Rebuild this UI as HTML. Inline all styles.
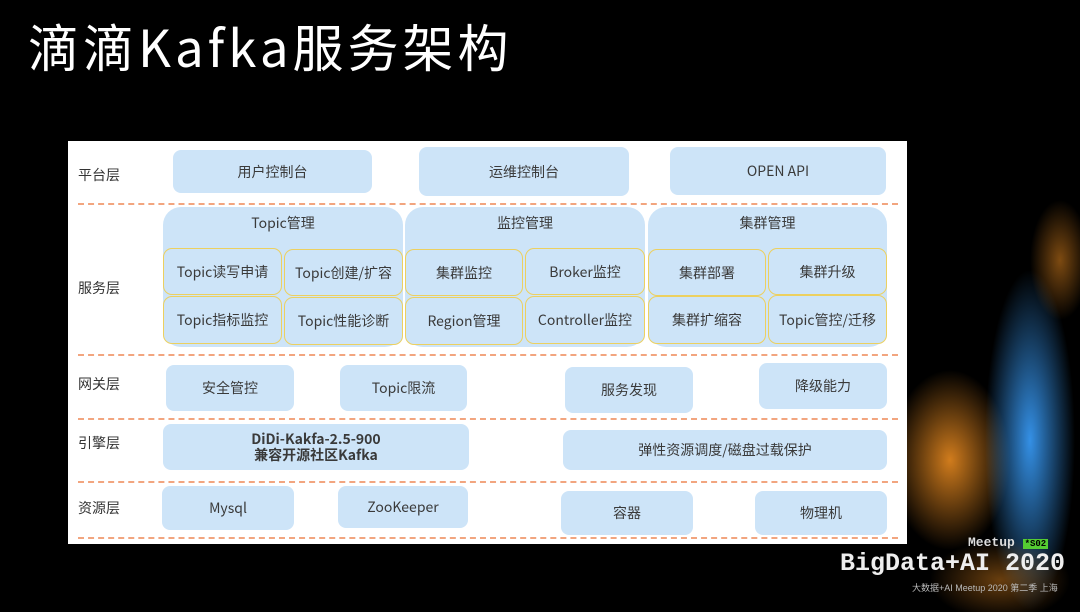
<!DOCTYPE html>
<html><head><meta charset="utf-8"><style>
*{margin:0;padding:0;box-sizing:border-box}
body{width:1080px;height:612px;background:#000;position:relative;overflow:hidden;font-family:"Liberation Sans","Noto Sans CJK SC",sans-serif}
.t{position:absolute;left:28px;top:8px;color:#fff;font-size:51px;font-family:"Noto Sans CJK SC",sans-serif;white-space:nowrap;letter-spacing:4px}
.panel{position:absolute;left:68px;top:141px;width:839px;height:403px;background:#fff}
.b{position:absolute;background:#cde4f8;border-radius:8px;color:#3a3a3a;font-size:14px;display:flex;align-items:center;justify-content:center;text-align:center;line-height:16px;font-family:"Noto Sans CJK SC",sans-serif}
.g{position:absolute;background:#cde4f8;border-radius:18px;color:#3a3a3a;font-size:14px;text-align:center;padding-top:6px;font-family:"Noto Sans CJK SC",sans-serif}
.y{border:1.5px solid #ecd060;border-radius:9px;background:#cde4f8}
.d{position:absolute;left:78px;width:820px;height:0;border-top:2px dashed #f2a57f}
.l{position:absolute;left:78px;color:#333;font-size:14px;font-family:"Noto Sans CJK SC",sans-serif}
</style></head><body>
<div class="t">滴滴Kafka服务架构</div>
<svg style="position:absolute;left:880px;top:140px" width="200" height="472">
<defs><radialGradient id="o"><stop offset="0" stop-color="#e88a20" stop-opacity=".9"/><stop offset="1" stop-color="#e88a20" stop-opacity="0"/></radialGradient>
<radialGradient id="bl"><stop offset="0" stop-color="#3aa0ff" stop-opacity=".9"/><stop offset="1" stop-color="#3aa0ff" stop-opacity="0"/></radialGradient></defs>
<ellipse cx="70" cy="320" rx="60" ry="90" fill="url(#o)"/>
<ellipse cx="150" cy="300" rx="45" ry="170" fill="url(#bl)"/>
<ellipse cx="180" cy="120" rx="30" ry="60" fill="url(#o)" opacity=".6"/>
<ellipse cx="120" cy="440" rx="70" ry="40" fill="url(#o)" opacity=".5"/>
</svg>
<div class="panel"></div>
<div class="d" style="top:203px"></div>
<div class="d" style="top:354px"></div>
<div class="d" style="top:418px"></div>
<div class="d" style="top:481px"></div>
<div class="d" style="top:537px"></div>
<div class="l" style="top:165px">平台层</div>
<div class="l" style="top:278px">服务层</div>
<div class="l" style="top:374px">网关层</div>
<div class="l" style="top:433px">引擎层</div>
<div class="l" style="top:498px">资源层</div>
<div class="b" style="left:173px;top:150px;width:199px;height:43px">用户控制台</div>
<div class="b" style="left:419px;top:147px;width:210px;height:49px">运维控制台</div>
<div class="b" style="left:670px;top:147px;width:216px;height:48px">OPEN API</div>
<div class="g" style="left:163px;top:207px;width:240px;height:140px">Topic管理</div>
<div class="g" style="left:405px;top:207px;width:240px;height:140px">监控管理</div>
<div class="g" style="left:648px;top:207px;width:239px;height:140px">集群管理</div>
<div class="b y" style="left:163px;top:248px;width:119px;height:47px">Topic读写申请</div>
<div class="b y" style="left:284px;top:249px;width:119px;height:47px">Topic创建/扩容</div>
<div class="b y" style="left:163px;top:296px;width:119px;height:48px">Topic指标监控</div>
<div class="b y" style="left:284px;top:297px;width:119px;height:48px">Topic性能诊断</div>
<div class="b y" style="left:405px;top:249px;width:118px;height:47px">集群监控</div>
<div class="b y" style="left:525px;top:248px;width:120px;height:47px">Broker监控</div>
<div class="b y" style="left:405px;top:297px;width:118px;height:48px">Region管理</div>
<div class="b y" style="left:525px;top:296px;width:120px;height:48px">Controller监控</div>
<div class="b y" style="left:648px;top:249px;width:118px;height:47px">集群部署</div>
<div class="b y" style="left:768px;top:248px;width:119px;height:47px">集群升级</div>
<div class="b y" style="left:648px;top:296px;width:118px;height:48px">集群扩缩容</div>
<div class="b y" style="left:768px;top:295px;width:119px;height:49px">Topic管控/迁移</div>
<div class="b" style="left:166px;top:365px;width:128px;height:46px">安全管控</div>
<div class="b" style="left:340px;top:365px;width:127px;height:46px">Topic限流</div>
<div class="b" style="left:565px;top:367px;width:128px;height:46px">服务发现</div>
<div class="b" style="left:759px;top:363px;width:128px;height:46px">降级能力</div>
<div class="b" style="left:163px;top:424px;width:306px;height:46px;font-weight:bold;flex-direction:column">DiDi-Kakfa-2.5-900<br>兼容开源社区Kafka</div>
<div class="b" style="left:563px;top:430px;width:324px;height:40px">弹性资源调度/磁盘过载保护</div>
<div class="b" style="left:162px;top:486px;width:132px;height:44px">Mysql</div>
<div class="b" style="left:338px;top:486px;width:130px;height:42px">ZooKeeper</div>
<div class="b" style="left:561px;top:491px;width:132px;height:44px">容器</div>
<div class="b" style="left:755px;top:491px;width:132px;height:44px">物理机</div>
<div style="position:absolute;left:968px;top:535px;color:#ddd;font-size:13px;font-family:'Liberation Mono',monospace;font-weight:bold">Meetup <span style="background:#5c3;color:#000;font-size:9px;padding:0 2px">*S02</span></div>
<div style="position:absolute;left:840px;top:549px;color:#eee;font-size:25px;font-family:'Liberation Mono',monospace;font-weight:bold;white-space:nowrap">BigData+AI 2020</div>
<div style="position:absolute;left:912px;top:581px;color:#bbb;font-size:9px;white-space:nowrap">大数据+AI Meetup 2020 第二季 上海</div>
</body></html>
